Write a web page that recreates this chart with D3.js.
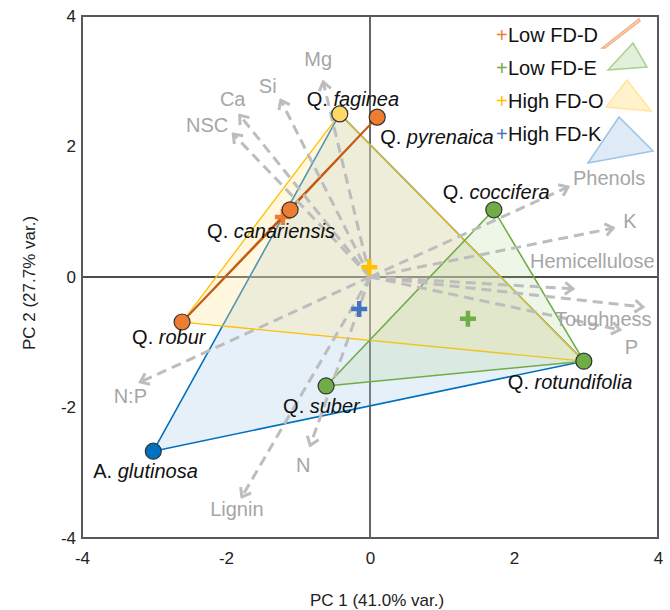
<!DOCTYPE html>
<html>
<head>
<meta charset="utf-8">
<script src="https://cdn.jsdelivr.net/npm/d3@7"></script>
<style>
  body { margin: 0; background: #fff; }
  svg { font-family: "Liberation Sans", Arial, sans-serif; }
</style>
</head>
<body>
<div id="chart"></div>
<script>
// species scores
var species = ["Q. robur", "Q. canariensis", "Q. pyrenaica", "Q. faginea", "A. glutinosa", "Q. coccifera", "Q. rotundifolia", "Q. suber"];
var pc1 = [-2.61, -1.11, 0.10, -0.42, -3.01, 1.72, 2.97, -0.61];
var pc2 = [-0.69, 1.03, 2.45, 2.50, -2.67, 1.03, -1.29, -1.67];
var speciesGroup = ["D", "D", "D", "O", "K", "E", "E", "E"];

// groups (hulls) and centroids
var groups = ["Low FD-D", "Low FD-E", "High FD-O", "High FD-K"];
var groupKeys = ["D", "E", "O", "K"];
var groupMembers = [
  ["Q. robur", "Q. canariensis", "Q. pyrenaica"],
  ["Q. coccifera", "Q. rotundifolia", "Q. suber"],
  ["Q. robur", "Q. faginea", "Q. rotundifolia"],
  ["A. glutinosa", "Q. faginea", "Q. rotundifolia"]
];
var centroidX = [-1.21, 1.36, -0.01, -0.15];
var centroidY = [0.92, -0.64, 0.15, -0.49];

// loadings
var variables = ["Mg", "Si", "Ca", "NSC", "Phenols", "K", "Hemicellulose", "Toughness", "P", "N:P", "N", "Lignin"];
var loadX = [-0.65, -1.24, -1.81, -1.90, 2.75, 3.38, 2.82, 3.79, 3.47, -3.19, -0.83, -1.78];
var loadY = [2.99, 2.71, 2.48, 2.19, 1.38, 0.75, -0.18, -0.46, -0.81, -1.61, -2.58, -3.37];

var ticks = [-4, -2, 0, 2, 4];

// ---- layout / style (not data) ----
var w = 670, h = 610;
var pLeft = 82, pRight = 658, pTop = 16, pBottom = 538;

var col = {
  D: {line: "#C55A11", fill: "#F4B183", dot: "#ED7D31", plus: "#ED7D31", op: 0.35},
  E: {line: "#70AD47", fill: "#A9D18E", dot: "#70AD47", plus: "#70AD47", op: 0.2},
  O: {line: "#FFC000", fill: "#FFE699", dot: "#FFD966", plus: "#FFC000", op: 0.32},
  K: {line: "#0070C0", fill: "#9DC3E6", dot: "#0070C0", plus: "#4472C4", op: 0.25}
};

// label offsets in px: [dx, dy, anchor]
var speciesLabelPos = {
  "Q. robur": [-50, 22],
  "Q. canariensis": [-83, 28],
  "Q. pyrenaica": [3, 27],
  "Q. faginea": [-33, -8],
  "A. glutinosa": [-60, 27],
  "Q. coccifera": [-51, -11],
  "Q. rotundifolia": [-76, 28],
  "Q. suber": [-43, 27]
};
var varLabelPos = {
  "Mg": [-5, -16, "middle"],
  "Si": [-13, -7, "middle"],
  "Ca": [-7, -9, "middle"],
  "NSC": [-26, -2, "middle"],
  "Phenols": [5, -2, "start"],
  "K": [10, 0, "start"],
  "Hemicellulose": [-43, -21, "start"],
  "Toughness": [-88, 19, "start"],
  "P": [5, 24, "start"],
  "N:P": [-10, 21, "middle"],
  "N": [-7, 27, "middle"],
  "Lignin": [-5, 19, "middle"]
};

var svg = d3.select("#chart").append("svg")
  .attr("width", w)
  .attr("height", h);

var x = d3.scaleLinear().domain([-4, 4]).range([pLeft, pRight]);
var y = d3.scaleLinear().domain([-4, 4]).range([pBottom, pTop]);

// axes tick labels
var xAxis = svg.append("g")
  .attr("transform", "translate(0," + pBottom + ")")
  .call(d3.axisBottom(x).tickValues(ticks).tickSize(0).tickPadding(14).tickFormat(function(d) { return String(d); }));
var yAxis = svg.append("g")
  .attr("transform", "translate(" + pLeft + ",0)")
  .call(d3.axisLeft(y).tickValues(ticks).tickSize(0).tickPadding(6).tickFormat(function(d) { return String(d); }));
[xAxis, yAxis].forEach(function(a) {
  a.select(".domain").remove();
  a.selectAll("text")
    .style("font-size", "17px")
    .style("font-family", "'Liberation Sans', Arial, sans-serif")
    .attr("fill", "#222");
});

// zero lines
svg.append("line")
  .attr("x1", x(-4)).attr("x2", x(4)).attr("y1", y(0)).attr("y2", y(0))
  .attr("stroke", "#111").attr("stroke-width", 1.5);
svg.append("line")
  .attr("x1", x(0)).attr("x2", x(0)).attr("y1", y(-4)).attr("y2", y(4))
  .attr("stroke", "#333").attr("stroke-width", 1.5);

// hull polygons, drawn K, O, E, D
function idx(name) { return species.indexOf(name); }
var order = [3, 2, 1, 0];
order.forEach(function(g) {
  var c = col[groupKeys[g]];
  var pts = groupMembers[g].map(function(s) {
    var i = idx(s);
    return [x(pc1[i]), y(pc2[i])];
  });
  svg.append("polygon")
    .attr("points", pts.map(function(p) { return p.join(","); }).join(" "))
    .attr("fill", c.fill)
    .attr("fill-opacity", c.op)
    .attr("stroke", c.line)
    .attr("stroke-width", g == 0 ? 2 : (g == 2 ? 1.3 : 1.6))
    .attr("stroke-linejoin", "round");
});

// arrow marker
svg.append("defs").append("marker")
  .attr("id", "chev")
  .attr("viewBox", "-10 -8 12 16")
  .attr("markerUnits", "userSpaceOnUse")
  .attr("markerWidth", 12)
  .attr("markerHeight", 16)
  .attr("refX", 0).attr("refY", 0)
  .attr("orient", "auto")
  .append("path")
  .attr("d", "M-8,-6L0,0L-8,6")
  .attr("fill", "none")
  .attr("stroke", "#BDBDBD")
  .attr("stroke-width", 3);

// loading vectors
svg.selectAll("line.load")
  .data(variables)
  .enter().append("line")
  .attr("class", "load")
  .attr("x1", x(0)).attr("y1", y(0))
  .attr("x2", function(d, i) { return x(loadX[i]); })
  .attr("y2", function(d, i) { return y(loadY[i]); })
  .attr("stroke", "#BDBDBD")
  .attr("stroke-width", 3)
  .attr("stroke-dasharray", "10,6")
  .attr("marker-end", "url(#chev)");

svg.selectAll("text.load")
  .data(variables)
  .enter().append("text")
  .attr("class", "load")
  .attr("x", function(d, i) { return x(loadX[i]) + varLabelPos[d][0]; })
  .attr("y", function(d, i) { return y(loadY[i]) + varLabelPos[d][1]; })
  .attr("text-anchor", function(d) { return varLabelPos[d][2]; })
  .attr("fill", "#A6A6A6")
  .style("font-size", "20px")
  .text(function(d) { return d; });

// centroids
groupKeys.forEach(function(k, g) {
  var cx = x(centroidX[g]), cy = y(centroidY[g]);
  svg.append("path")
    .attr("d", "M" + (cx - 8) + "," + cy + "H" + (cx + 8) + "M" + cx + "," + (cy - 8) + "V" + (cy + 8))
    .attr("stroke", col[k].plus)
    .attr("stroke-width", 4.5);
});

// species points
svg.selectAll("circle.sp")
  .data(species)
  .enter().append("circle")
  .attr("class", "sp")
  .attr("cx", function(d, i) { return x(pc1[i]); })
  .attr("cy", function(d, i) { return y(pc2[i]); })
  .attr("r", 8)
  .attr("fill", function(d, i) { return col[speciesGroup[i]].dot; })
  .attr("stroke", "#333")
  .attr("stroke-width", 1.2);

var lab = svg.selectAll("text.sp")
  .data(species)
  .enter().append("text")
  .attr("class", "sp")
  .attr("x", function(d, i) { return x(pc1[i]) + speciesLabelPos[d][0]; })
  .attr("y", function(d, i) { return y(pc2[i]) + speciesLabelPos[d][1]; })
  .attr("fill", "#111")
  .style("font-size", "20px");
lab.append("tspan").text(function(d) { return d.split(" ")[0] + " "; });
lab.append("tspan").style("font-style", "italic").text(function(d) { return d.split(" ")[1]; });

// plot border
svg.append("rect")
  .attr("x", pLeft).attr("y", pTop)
  .attr("width", pRight - pLeft).attr("height", pBottom - pTop)
  .attr("fill", "none")
  .attr("stroke", "#595959")
  .attr("stroke-width", 2);

// axis titles
svg.append("text")
  .attr("x", 377).attr("y", 606)
  .attr("text-anchor", "middle")
  .attr("fill", "#222")
  .style("font-size", "17px")
  .text("PC 1 (41.0% var.)");
svg.append("text")
  .attr("transform", "translate(35,283) rotate(-90)")
  .attr("text-anchor", "middle")
  .attr("fill", "#222")
  .style("font-size", "17px")
  .text("PC 2 (27.7% var.)");

// legend
var legend = svg.append("g").attr("transform", "translate(494,0)");
var legIcons = [
  {pts: [[108, 48], [145, 19], [146, 21], [111, 48]], fill: "#FBE5D6", stroke: "#F4B183"},
  {pts: [[114, 70], [153, 67], [139, 43]], fill: "#E2EFDA", stroke: "#A9D18E"},
  {pts: [[112, 107], [157, 111], [133, 80]], fill: "#FFF2CC", stroke: "#FFE699"},
  {pts: [[94, 163], [159, 151], [125, 117]], fill: "#DEEBF7", stroke: "#9DC3E6"}
];
groups.forEach(function(gname, g) {
  var yy = 42 + g * 33;
  legend.append("polygon")
    .attr("points", legIcons[g].pts.map(function(p) { return p.join(","); }).join(" "))
    .attr("fill", legIcons[g].fill)
    .attr("stroke", legIcons[g].stroke)
    .attr("stroke-width", 1.5);
  legend.append("text")
    .attr("x", 2).attr("y", yy)
    .attr("fill", col[groupKeys[g]].plus)
    .style("font-size", "20px")
    .text("+");
  legend.append("text")
    .attr("x", 14).attr("y", yy)
    .attr("fill", "#111")
    .style("font-size", "20px")
    .text(gname);
});
</script>
</body>
</html>
